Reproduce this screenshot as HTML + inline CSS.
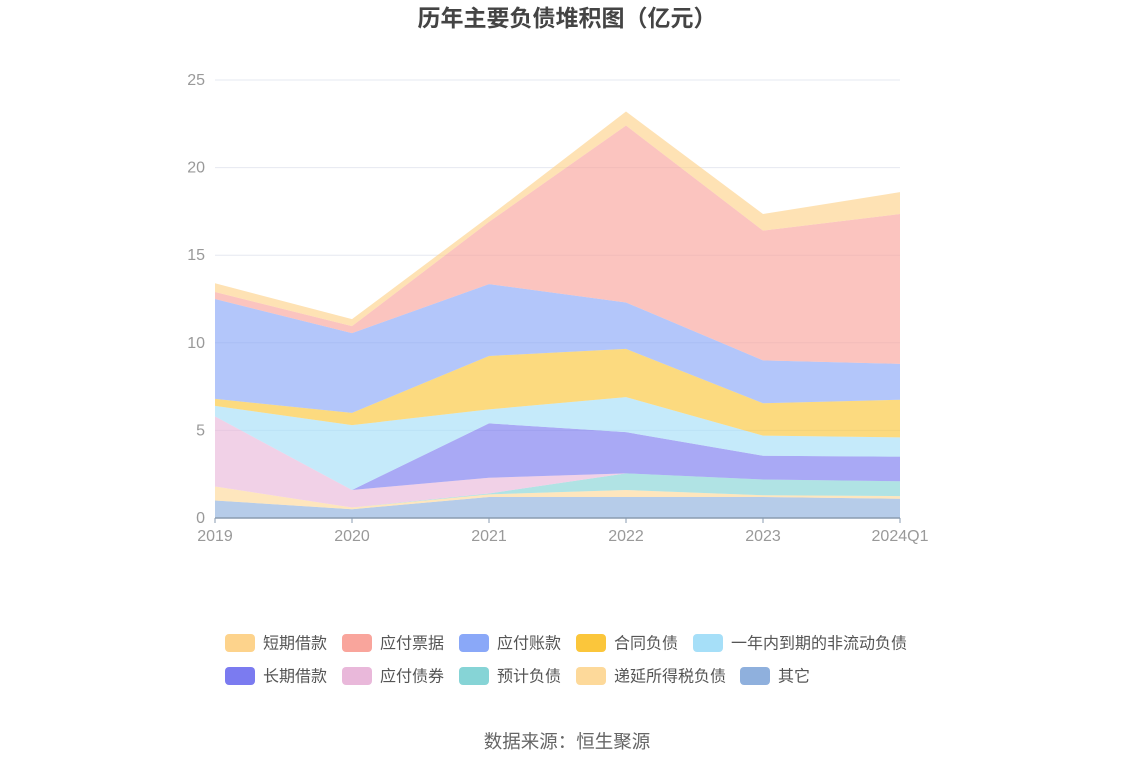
<!DOCTYPE html>
<html><head><meta charset="utf-8"><style>
body{margin:0;background:#fff;}
svg{display:block;font-family:"Liberation Sans","Noto Sans CJK SC",sans-serif;}
</style></head><body>
<svg id="chart" width="1134" height="766">
<text x="567" y="26" text-anchor="middle" font-size="23" font-weight="bold" fill="#444">历年主要负债堆积图（亿元）</text>
<g id="grid"></g><g id="areas"></g><g id="axes"></g><g id="legend"></g>
<text x="567" y="748" text-anchor="middle" font-size="18.5" fill="#666">数据来源：恒生聚源</text>
</svg>
<script>
const categories=["2019","2020","2021","2022","2023","2024Q1"];
const yTicks=[0,5,10,15,20,25];
const seriesNames=["其它","递延所得税负债","预计负债","应付债券","长期借款","一年内到期的非流动负债","合同负债","应付账款","应付票据","短期借款"];
const sOther=[1.0,0.5,1.2,1.2,1.2,1.1];
const sDeferred=[0.8,0.1,0.15,0.4,0.1,0.15];
const sProvision=[0,0,0.05,0.95,0.9,0.85];
const sBonds=[4.0,1.0,0.9,0,0,0];
const sLongLoan=[0,0,3.1,2.35,1.35,1.4];
const sCurrentNC=[0.6,3.7,0.8,2.0,1.15,1.1];
const sContract=[0.4,0.7,3.05,2.75,1.85,2.15];
const sPayable=[5.7,4.55,4.1,2.65,2.45,2.05];
const sNotes=[0.4,0.4,3.55,10.1,7.4,8.55];
const sShortLoan=[0.5,0.4,0.3,0.8,0.95,1.25];
const seriesData=[sOther,sDeferred,sProvision,sBonds,sLongLoan,sCurrentNC,sContract,sPayable,sNotes,sShortLoan];
const colors=["#8fb0dd","#fdd99a","#86d4d6","#e9b8da","#7b7bf0","#a6dff8","#fbc63b","#8aa8f8","#f9a59c","#fdd38c"];
const NS="http://www.w3.org/2000/svg";
const x0=215,x1=900,y0=518,y1=80,yMax=25;
const X=i=>x0+i*(x1-x0)/(categories.length-1);
const Y=v=>y0-v*(y0-y1)/yMax;
function mk(t,a,p){const e=document.createElementNS(NS,t);for(const k in a)e.setAttribute(k,a[k]);p.appendChild(e);return e;}
const grid=document.getElementById('grid'),axes=document.getElementById('axes'),areas=document.getElementById('areas'),legend=document.getElementById('legend');
yTicks.forEach(t=>{
 if(t>0){const l=mk('line',{x1:x0,x2:x1,y1:Y(t),y2:Y(t),stroke:'#e6e8f0'},grid);
 
 }
 const tx=mk('text',{x:205,y:Y(t)+5,'text-anchor':'end','font-size':16,fill:'#999'},axes);tx.textContent=t;
 
 
});
let base=categories.map(()=>0);
seriesData.forEach((s,k)=>{
 const top=base.map((b,i)=>b+s[i]);
 let d='M'+top.map((v,i)=>X(i)+','+Y(v)).join('L');
 for(let i=categories.length-1;i>=0;i--)d+='L'+X(i)+','+Y(base[i]);
 const p=mk('path',{d:d+'Z',fill:colors[k],'fill-opacity':0.65,stroke:'none'},areas);
 
 
 base=top;
});
const ax=mk('line',{x1:x0,x2:x1,y1:y0,y2:y0,stroke:'#8a9bb0','stroke-width':1.5},axes);


categories.forEach((c,i)=>{
 const tk=mk('line',{x1:X(i),x2:X(i),y1:y0,y2:y0+5,stroke:'#8a9bb0'},axes);
 
 
 const t=mk('text',{x:X(i),y:y0+23,'text-anchor':'middle','font-size':16,fill:'#999'},axes);t.textContent=c;
 
 
});
const legendOrder=[9,8,7,6,5,4,3,2,1,0];
const lx=[225,342,459,576,693,225,342,459,576,740];
legendOrder.forEach((k,j)=>{
 const y=j<5?643:676;
 const g=mk('g',{},legend);
 
 
 mk('rect',{x:lx[j],y:y-9,width:30,height:18,rx:4,fill:colors[k]},g);
 const t=mk('text',{x:lx[j]+38,y:y+5.5,'font-size':16,fill:'#555'},g);t.textContent=seriesNames[k];
});
</script>
</body></html>
